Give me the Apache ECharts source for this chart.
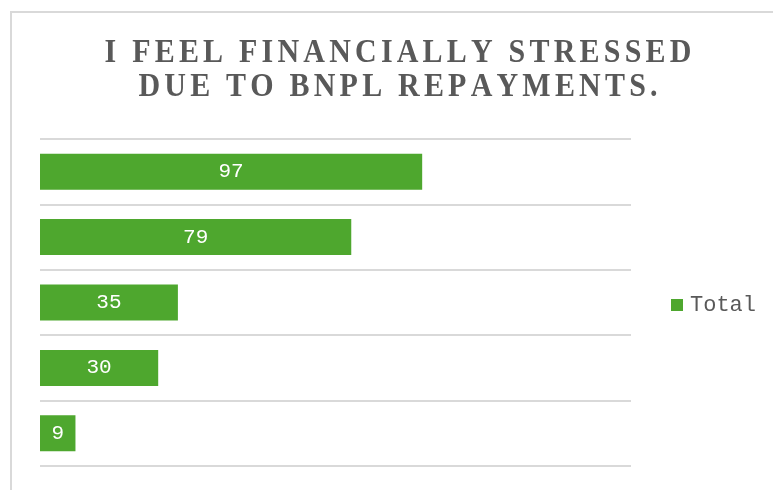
<!DOCTYPE html>
<html>
<head>
<meta charset="utf-8">
<script src="https://cdn.jsdelivr.net/npm/echarts@6/dist/echarts.min.js"></script>
<style>
  html, body { margin: 0; padding: 0; background: #fff; }
  #main { width: 773px; height: 490px; }
</style>
</head>
<body>
<div id="main"></div>
<script>
// chart data
var categories = ['Strongly Agree', 'Agree', 'Neutral', 'Disagree', 'Strongly Disagree'];
var totals = [97, 79, 35, 30, 9];
var seriesName = 'Total';
var titleLines = ['I FEEL FINANCIALLY STRESSED', 'DUE TO BNPL REPAYMENTS.'];

// fake letter spacing: one rich segment per character
function spaced(str) {
  return str.split('').map(function (c) { return '{s|' + c + '}'; }).join('');
}

var myChart = echarts.init(document.getElementById('main'));

function titleText(str, y) {
  return {
    type: 'text',
    x: 398,
    y: y,
    scaleY: 1.1,
    silent: true,
    style: {
      text: spaced(str),
      textAlign: 'center',
      textVerticalAlign: 'middle',
      rich: {
        s: {
          fontFamily: 'Liberation Serif',
          fontWeight: 'bold',
          fontSize: 30,
          fill: '#595959',
          padding: [0, 2.1, 0, 2.1]
        }
      }
    }
  };
}

var option = {
  animation: false,
  backgroundColor: '#fff',
  graphic: [
    {
      type: 'rect',
      shape: { x: 11, y: 12, width: 800, height: 500 },
      style: { fill: 'none', stroke: '#d9d9d9', lineWidth: 2 },
      silent: true
    },
    titleText(titleLines[0], 53),
    titleText(titleLines[1], 87.5)
  ],
  legend: {
    data: [seriesName],
    orient: 'vertical',
    left: 666,
    top: 289,
    icon: 'rect',
    itemWidth: 12,
    itemHeight: 12,
    itemGap: 0,
    textStyle: {
      fontFamily: 'Liberation Mono',
      fontSize: 22,
      color: '#595959',
      padding: [0, 0, 0, 2]
    }
  },
  grid: {
    left: 40,
    right: 142,
    top: 139,
    bottom: 24,
    containLabel: false
  },
  xAxis: {
    type: 'value',
    min: 0,
    max: 150,
    show: false
  },
  yAxis: {
    type: 'category',
    data: categories,
    inverse: true,
    axisLine: { show: false },
    axisTick: { show: false },
    axisLabel: { show: false },
    splitLine: {
      show: true,
      lineStyle: { color: '#d9d9d9', width: 2 }
    }
  },
  series: [{
    name: seriesName,
    type: 'bar',
    data: totals,
    barWidth: '55%',
    itemStyle: { color: '#4ea72e' },
    label: {
      show: true,
      position: 'inside',
      color: '#fff',
      fontFamily: 'Liberation Mono',
      fontSize: 21
    }
  }]
};
myChart.setOption(option);
</script>
</body>
</html>
